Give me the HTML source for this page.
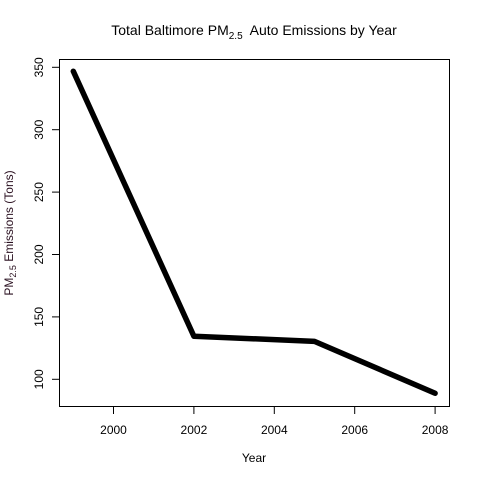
<!DOCTYPE html>
<html><head><meta charset="utf-8"><style>
html,body{margin:0;padding:0;background:#fff}
svg{display:block;font-family:"Liberation Sans",Arial,sans-serif}
</style></head><body>
<svg id="chart" width="480" height="480" xmlns="http://www.w3.org/2000/svg">
<rect x="0" y="0" width="480" height="480" fill="#fff"/>
<text x="254" y="35" font-size="14" text-anchor="middle" xml:space="preserve">Total Baltimore PM<tspan font-size="10" dy="4">2.5</tspan><tspan dy="-4" xml:space="preserve">  Auto Emissions by Year</tspan></text>
<rect x="59.5" y="59.5" width="390" height="347" fill="none" stroke="#000" stroke-width="1"/>
<g id="xaxis"></g>
<g id="yaxis"></g>
<text x="254" y="462" font-size="12" text-anchor="middle">Year</text>
<text transform="translate(13,233) rotate(-90)" font-size="12" text-anchor="middle" fill="#2a1020">PM<tspan font-size="9" dy="3">2.5</tspan><tspan dy="-3"> Emissions (Tons)</tspan></text>
<polyline id="line" fill="none" stroke="#000" stroke-width="5.5" stroke-linejoin="round" stroke-linecap="round"/>
</svg>
<script>
const years = [1999, 2002, 2005, 2008];
const emissions = [346.8, 134.5, 130.4, 88.8];
const xTicks = [2000, 2002, 2004, 2006, 2008];
const yTicks = [100, 150, 200, 250, 300, 350];
const NS = "http://www.w3.org/2000/svg";
const x = v => 113.5 + (v - 2000) * 40.2;
const y = v => 379.3 - (v - 100) * 1.248;
const xa = document.getElementById('xaxis'), ya = document.getElementById('yaxis');
xTicks.forEach(t => {
  const l = document.createElementNS(NS, 'line');
  l.setAttribute('x1', x(t)); l.setAttribute('x2', x(t)); l.setAttribute('y1', 407); l.setAttribute('y2', 414);
  l.setAttribute('stroke', '#000');
  
  
  xa.appendChild(l);
  const tx = document.createElementNS(NS, 'text');
  tx.setAttribute('x', x(t)); tx.setAttribute('y', 434); tx.setAttribute('font-size', '12'); tx.setAttribute('text-anchor', 'middle');
  tx.textContent = t;
  
  
  xa.appendChild(tx);
});
yTicks.forEach(t => {
  const l = document.createElementNS(NS, 'line');
  l.setAttribute('x1', 52); l.setAttribute('x2', 59); l.setAttribute('y1', y(t)); l.setAttribute('y2', y(t));
  l.setAttribute('stroke', '#000');
  
  
  ya.appendChild(l);
  const tx = document.createElementNS(NS, 'text');
  tx.setAttribute('transform', `translate(43,${y(t)}) rotate(-90)`); tx.setAttribute('font-size', '12'); tx.setAttribute('text-anchor', 'middle');
  tx.textContent = t;
  
  
  ya.appendChild(tx);
});
document.getElementById('line').setAttribute('points', years.map((yr, i) => x(yr) + ',' + y(emissions[i])).join(' '));
</script>
</body></html>
